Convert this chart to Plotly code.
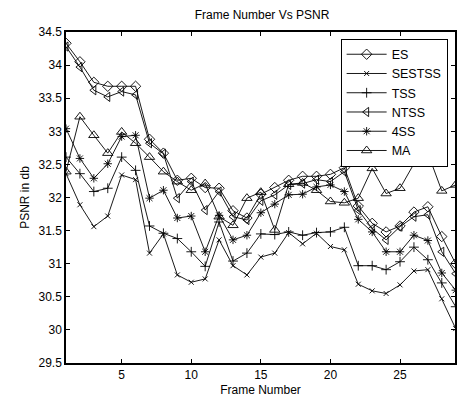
import plotly.graph_objects as go

frames = list(range(1, 30))

ES = [34.33, 34.05, 33.74, 33.68, 33.68, 33.68, 32.88, 32.67, 32.26, 32.29, 32.15, 32.14, 31.80, 31.69, 32.05,
      32.15, 32.26, 32.32, 32.32, 32.35, 32.45, 31.87, 31.61, 31.48, 31.57, 31.78, 31.86, 31.41, 31.00]
SESTSS = [32.36, 31.89, 31.56, 31.72, 32.34, 32.27, 31.16, 31.45, 30.83, 30.72, 30.77, 31.36, 30.97, 30.83, 31.10,
          31.16, 31.47, 31.30, 31.46, 31.26, 31.21, 30.69, 30.59, 30.55, 30.68, 30.89, 30.91, 30.47, 30.02]
TSS = [32.61, 32.36, 32.09, 32.14, 32.61, 32.41, 31.57, 31.46, 31.38, 31.18, 30.96, 31.63, 31.04, 31.16, 31.45,
       31.44, 31.48, 31.43, 31.47, 31.48, 31.55, 30.97, 30.97, 30.91, 31.03, 31.25, 31.06, 30.71, 30.35]
NTSS = [34.28, 33.97, 33.62, 33.52, 33.60, 33.55, 32.82, 32.66, 31.99, 32.24, 31.81, 32.09, 31.71, 31.66, 31.95,
        32.04, 32.19, 32.21, 32.27, 32.24, 32.39, 31.81, 31.53, 31.36, 31.56, 31.71, 31.74, 31.18, 30.85]
FOURSS = [33.04, 32.59, 32.29, 32.51, 32.92, 32.94, 31.99, 32.11, 31.69, 31.72, 31.18, 31.73, 31.36, 31.43, 31.77,
          31.90, 32.04, 32.05, 32.16, 32.19, 32.09, 31.67, 31.48, 31.18, 31.18, 31.43, 31.35, 30.86, 30.60]
MA = [32.39, 33.22, 32.94, 32.67, 32.99, 32.82, 32.61, 32.39, 32.24, 32.11, 32.21, 31.71, 31.58, 31.99, 32.08,
      31.51, 32.20, 32.22, 32.11, 31.94, 31.92, 31.99, 32.44, 32.06, 32.14, 32.51, 32.67, 32.10, 32.19]

series = [
    ("ES", ES, "diamond-open", 8),
    ("SESTSS", SESTSS, "x-thin", 5),
    ("TSS", TSS, "cross-thin", 7),
    ("NTSS", NTSS, "triangle-left-open", 8),
    ("4SS", FOURSS, "asterisk", 7),
    ("MA", MA, "triangle-up-open", 9),
]

y_ticks = [29.5, 30, 30.5, 31, 31.5, 32, 32.5, 33, 33.5, 34, 34.5]
x_ticks = [5, 10, 15, 20, 25]

fig = go.Figure()
for name, vals, sym, size in series:
    fig.add_trace(go.Scatter(
        x=frames, y=vals, name=name, mode="lines+markers",
        line=dict(color="black", width=0.9),
        marker=dict(symbol=sym, size=size, color="black",
                    line=dict(color="black", width=0.9)),
    ))

font_family = "Liberation Sans, Arial, sans-serif"

fig.update_layout(
    width=457, height=408,
    margin=dict(l=66, r=0, t=32, b=45),
    paper_bgcolor="white", plot_bgcolor="white",
    font=dict(family=font_family, size=12, color="black"),
    title=dict(text="Frame Number Vs PSNR", x=(66 + 458) / 2 / 457, xanchor="center",
               y=1 - 15 / 408, yanchor="middle", font=dict(size=12)),
    showlegend=True,
    legend=dict(x=0.706, y=0.98, xanchor="left", yanchor="top",
                bgcolor="white", bordercolor="black", borderwidth=1,
                font=dict(size=12.5), itemwidth=40, tracegroupgap=0),
)

fig.update_xaxes(
    range=[1, 28.95], tickvals=x_ticks, ticktext=[str(v) for v in x_ticks],
    ticks="inside", ticklen=4, tickcolor="black",
    showline=True, linecolor="black", linewidth=1.5, mirror="ticks",
    showgrid=False, zeroline=False,
    title=dict(text="Frame Number", standoff=4, font=dict(size=12)),
)
fig.update_yaxes(
    range=[29.5, 34.5], tickvals=y_ticks, ticktext=[f"{v:g}" for v in y_ticks],
    ticks="inside", ticklen=4, tickcolor="black",
    showline=True, linecolor="black", linewidth=1.5, mirror="ticks",
    showgrid=False, zeroline=False,
    title=dict(text="PSNR in db", standoff=6, font=dict(size=12)),
)

fig.write_html("out.html", config={"displayModeBar": False},
               post_script="document.body.style.margin='0';document.body.style.overflow='hidden';")
